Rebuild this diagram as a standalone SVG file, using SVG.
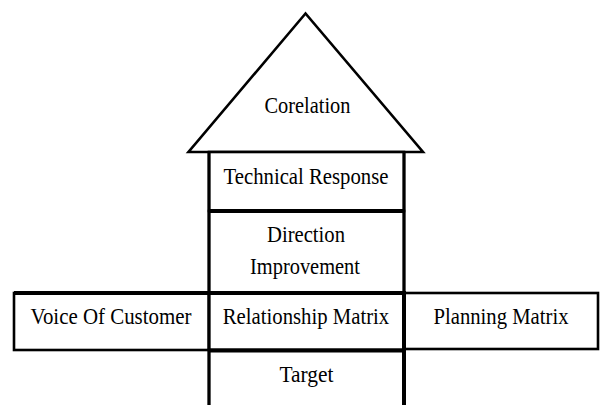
<svg xmlns="http://www.w3.org/2000/svg" width="601" height="405" viewBox="0 0 601 405">
<style>
.box{fill:#fff;stroke:#000;stroke-width:2.6}
.sep{stroke:#000;stroke-width:4;fill:none}
.vl{stroke:#000;stroke-width:3;fill:none}
.t{font-family:"Liberation Serif","Times New Roman",serif;font-size:24px;fill:#000;text-anchor:middle}
</style>
<rect width="601" height="405" fill="#fff"/>
<g id="corelation">
<polygon class="box" points="305.5,13.5 188.5,152 423,152"/>
<text class="t" x="307.5" y="113" textLength="86" lengthAdjust="spacingAndGlyphs">Corelation</text>
</g>
<g id="technical-response">
<rect class="box" x="209" y="152" width="195" height="59"/>
<text class="t" x="306" y="184" textLength="165" lengthAdjust="spacingAndGlyphs">Technical Response</text>
</g>
<g id="direction-improvement">
<rect class="box" x="209" y="211" width="195" height="82"/>
<text class="t" x="306" y="242" textLength="78" lengthAdjust="spacingAndGlyphs">Direction</text>
<text class="t" x="305" y="273.5" textLength="110" lengthAdjust="spacingAndGlyphs">Improvement</text>
</g>
<g id="voice-of-customer">
<rect class="box" x="14" y="293" width="195" height="57"/>
<text class="t" x="111" y="324" textLength="161" lengthAdjust="spacingAndGlyphs">Voice Of Customer</text>
</g>
<g id="relationship-matrix">
<rect class="box" x="209" y="293" width="195" height="57"/>
<text class="t" x="306" y="324" textLength="166.5" lengthAdjust="spacingAndGlyphs">Relationship Matrix</text>
</g>
<g id="planning-matrix">
<rect class="box" x="404" y="293" width="194" height="56"/>
<text class="t" x="501" y="324" textLength="135" lengthAdjust="spacingAndGlyphs">Planning Matrix</text>
</g>
<g id="target">
<path class="box" d="M209,406 V350 H404 V406"/>
<text class="t" x="306.5" y="381.5" textLength="54" lengthAdjust="spacingAndGlyphs">Target</text>
</g>
<g id="connectors">
<path class="sep" d="M209,211 H404 M14,293 H404 M209,350.5 H404 M404,291 V406"/>
<path class="vl" d="M209,152 V406 M404,152 V293"/>
</g>
</svg>
